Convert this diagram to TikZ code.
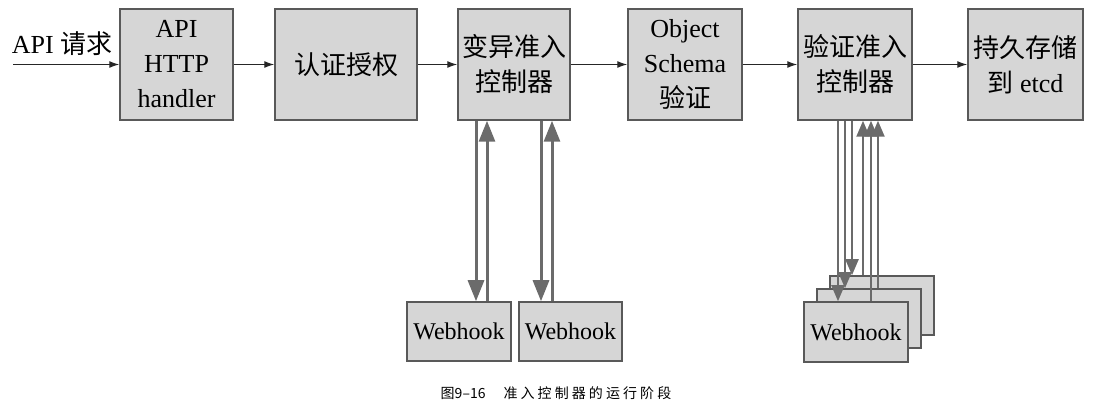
\documentclass[tikz,border=0pt]{standalone}
\usepackage{fontspec}
\setmainfont{Liberation Serif}
\newfontfamily\cjk{Noto Sans CJK SC}
\newfontfamily\capcjk[LetterSpace=22]{Noto Sans CJK SC}
\usepackage{tikz}
\usetikzlibrary{arrows.meta}
\tikzset{stage/.style={draw=black!65, fill=black!16, line width=1.5pt, inner sep=0pt,
      minimum height=111pt, align=center, font=\fontsize{26}{35}\selectfont}}
\tikzset{hook/.style={draw=black!65, fill=black!16, line width=1.5pt, inner sep=0pt,
      minimum width=104pt, minimum height=59pt, font=\fontsize{24}{24}\selectfont}}
\tikzset{flow/.style={draw=black!85, line width=1.3pt, -{Latex[length=10pt,width=7pt]}}}
\tikzset{call/.style={draw=black!58, line width=3pt, -{Triangle[length=21pt,width=16pt]}}}
\tikzset{fan/.style={draw=black!58, line width=2.2pt, -{Triangle[length=16pt,width=13pt]}}}

\begin{document}
\begin{tikzpicture}[x=1pt,y=-1pt]
		\useasboundingbox (0,0) rectangle (1101,406);
		% main row
		\node[stage, minimum width=113pt] (api) at (176.5,64.5) {API\\HTTP\\handler};
		\node[stage, minimum width=142pt] (auth) at (346,64.5) {\cjk 认证授权};
		\node[stage, minimum width=112pt] (mut) at (514,64.5) {\cjk 变异准入\\\cjk 控制器};
		\node[stage, minimum width=114pt] (schema) at (685,64.5) {Object\\Schema\\\cjk 验证};
		\node[stage, minimum width=114pt] (valid) at (855,64.5) {\cjk 验证准入\\\cjk 控制器};
		\node[stage, minimum width=115pt] (etcd) at (1025.5,64.5) {\cjk 持久存储\\{\cjk 到} etcd};
		\coordinate (req) at (13,64.5);
		\node[draw=none, font=\fontsize{26}{26}\selectfont] (reqlabel) at (62,44) {API {\cjk 请求}};
		\draw[flow] (req) -- (api);
		\draw[flow] (api) -- (auth);
		\draw[flow] (auth) -- (mut);
		\draw[flow] (mut) -- (schema);
		\draw[flow] (schema) -- (valid);
		\draw[flow] (valid) -- (etcd);
		% webhooks
		\node[hook] (wh1) at (459,331.5) {Webhook};
		\node[hook, minimum width=103pt] (wh2) at (570.5,331.5) {Webhook};
		\node[hook] (whb) at (882,305.5) {};
		\node[hook] (whm) at (869,318.5) {};
		\node[hook, minimum height=60pt] (whf) at (856,332) {Webhook};
		% calls
		\coordinate (d1) at (476,0); \coordinate (u1) at (487,0);
		\coordinate (d2) at (541,0); \coordinate (u2) at (552,0);
		\draw[call] (d1 |- mut.south) -- (d1 |- wh1.north);
		\draw[call] (u1 |- wh1.north) -- (u1 |- mut.south);
		\draw[call] (d2 |- mut.south) -- (d2 |- wh2.north);
		\draw[call] (u2 |- wh2.north) -- (u2 |- mut.south);
		\coordinate (d3) at (838,0); \coordinate (d4) at (845,0); \coordinate (d5) at (852,0);
		\coordinate (u3) at (863,0); \coordinate (u4) at (871,0); \coordinate (u5) at (878,0);
		\draw[fan] (d3 |- valid.south) -- (d3 |- whf.north);
		\draw[fan] (d4 |- valid.south) -- (d4 |- whm.north);
		\draw[fan] (d5 |- valid.south) -- (d5 |- whb.north);
		\draw[fan] (u3 |- whb.north) -- (u3 |- valid.south);
		\draw[fan] (u4 |- whf.north) -- (u4 |- valid.south);
		\draw[fan] (u5 |- whm.north) -- (u5 |- valid.south);
		% caption
		\node[font=\fontsize{14}{14}\selectfont] (caption) at (556,393) {{\cjk 图9–16}\hspace{18pt}{\capcjk 准入控制器的运行阶段}};
		\end{tikzpicture}
\end{document}
